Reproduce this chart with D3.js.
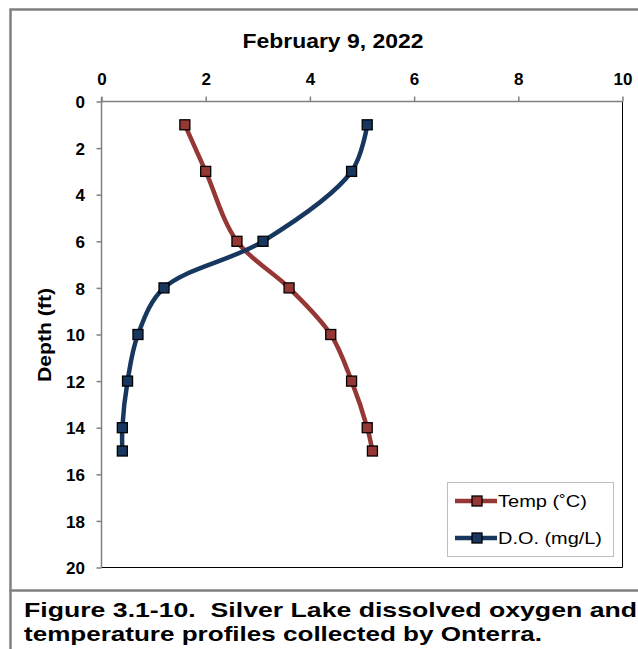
<!DOCTYPE html>
<html>
<head>
<meta charset="utf-8">
<script src="https://cdn.jsdelivr.net/npm/d3@7"></script>
<style>
  html, body { margin: 0; padding: 0; background: #fff; }
  svg { display: block; font-family: Arial, "Liberation Sans", sans-serif; }
</style>
</head>
<body>
<svg id="chart" width="638" height="649"></svg>
<script>
// Profile data: depth (ft) and readings
const depths = [1, 3, 6, 8, 10, 12, 14, 15];
const tempC = [1.6, 2.0, 2.6, 3.6, 4.4, 4.8, 5.1, 5.2];
const doMgL = [5.1, 4.8, 3.1, 1.2, 0.7, 0.5, 0.4, 0.4];
const xTicks = [0, 2, 4, 6, 8, 10];
const yTicks = [0, 2, 4, 6, 8, 10, 12, 14, 16, 18, 20];
const seriesNames = ["Temp (\u02DAC)", "D.O. (mg/L)"];
const seriesColors = ["#953735", "#17375E"];
const chartTitle = "February 9, 2022";
const yTitle = "Depth (ft)";
const captionLines = [
  "Figure 3.1-10.  Silver Lake dissolved oxygen and",
  "temperature profiles collected by Onterra."
];
const captionWidths = [613, 518];

const svg = d3.select("#chart");
const plot = { left: 101.5, top: 101.5, right: 622.5, bottom: 567.5 };

const x = d3.scaleLinear().domain([0, 10]).range([plot.left, plot.right]);
const y = d3.scaleLinear().domain([0, 20]).range([plot.top, plot.bottom]);

// Outer chart frame (extends past the right edge)
svg.append("rect")
  .attr("x", 10.5).attr("y", 9.5)
  .attr("width", 700).attr("height", 581)
  .attr("fill", "none").attr("stroke", "#808080").attr("stroke-width", 2.5);
// Left frame line continues down beside the caption
svg.append("line")
  .attr("x1", 10.5).attr("x2", 10.5).attr("y1", 590).attr("y2", 649)
  .attr("stroke", "#808080").attr("stroke-width", 2.5);

// Plot area border (right and bottom)
svg.append("path")
  .attr("d", `M${plot.right},${plot.top}V${plot.bottom}H${plot.left}`)
  .attr("fill", "none").attr("stroke", "#000").attr("stroke-width", 1);

// Top axis
const xAxis = d3.axisTop(x).tickValues(xTicks).tickSize(5).tickFormat(d3.format("d"));
const gx = svg.append("g").attr("transform", `translate(0,${plot.top})`).call(xAxis);
gx.select(".domain").attr("stroke", "#808080").attr("stroke-width", 1.5)
  .attr("d", `M${plot.left},0H${plot.right}`);
gx.selectAll(".tick line").attr("stroke", "#808080").attr("stroke-width", 1.5);
gx.selectAll(".tick text")
  .attr("font-size", 17).attr("font-weight", "bold").attr("fill", "#000")
  .attr("y", -16.5).attr("dy", 0)
  .attr("font-family", "Arial, 'Liberation Sans', sans-serif");

// Left axis
const yAxis = d3.axisLeft(y).tickValues(yTicks).tickSize(5).tickFormat(d3.format("d"));
const gy = svg.append("g").attr("transform", `translate(${plot.left},0)`).call(yAxis);
gy.select(".domain").attr("stroke", "#808080").attr("stroke-width", 1.5)
  .attr("d", `M0,${plot.top - 4}V${plot.bottom}`);
gy.selectAll(".tick line").attr("stroke", "#808080").attr("stroke-width", 1.5);
gy.selectAll(".tick text")
  .attr("font-size", 17).attr("font-weight", "bold").attr("fill", "#000")
  .attr("x", -16.5).attr("dy", "0.36em")
  .attr("font-family", "Arial, 'Liberation Sans', sans-serif");

// Title
svg.append("text")
  .attr("x", 333).attr("y", 47.5)
  .attr("text-anchor", "middle")
  .attr("font-size", 21).attr("font-weight", "bold")
  .attr("textLength", 181).attr("lengthAdjust", "spacingAndGlyphs")
  .text(chartTitle);

// Y axis title
svg.append("text")
  .attr("transform", `translate(51,${335}) rotate(-90)`)
  .attr("text-anchor", "middle")
  .attr("font-size", 19).attr("font-weight", "bold")
  .attr("textLength", 94).attr("lengthAdjust", "spacingAndGlyphs")
  .text(yTitle);

// Series
const series = [
  { name: seriesNames[0], color: seriesColors[0], values: tempC, width: 89 },
  { name: seriesNames[1], color: seriesColors[1], values: doMgL, width: 104 }
];

const line = d3.line()
  .x(d => x(d.v))
  .y(d => y(d.depth))
  .curve(d3.curveCatmullRom.alpha(0.5));

series.forEach(s => {
  const pts = depths.map((depth, i) => ({ depth, v: s.values[i] }));
  svg.append("path")
    .datum(pts)
    .attr("d", line)
    .attr("fill", "none")
    .attr("stroke", s.color)
    .attr("stroke-width", 4.5)
    .attr("stroke-linejoin", "round");
});

series.forEach(s => {
  const pts = depths.map((depth, i) => ({ depth, v: s.values[i] }));
  svg.append("g").selectAll("rect")
    .data(pts)
    .join("rect")
    .attr("x", d => x(d.v) - 5)
    .attr("y", d => y(d.depth) - 5)
    .attr("width", 10).attr("height", 10)
    .attr("fill", s.color)
    .attr("stroke", "#000").attr("stroke-width", 1.3);
});

// Legend
const legend = svg.append("g");
legend.append("rect")
  .attr("x", 447.5).attr("y", 482.5)
  .attr("width", 166).attr("height", 74)
  .attr("fill", "#fff").attr("stroke", "#bfbfbf").attr("stroke-width", 1);
series.forEach((s, i) => {
  const cy = 501 + i * 37;
  legend.append("line")
    .attr("x1", 455).attr("x2", 497).attr("y1", cy).attr("y2", cy)
    .attr("stroke", s.color).attr("stroke-width", 4.5);
  legend.append("rect")
    .attr("x", 472).attr("y", cy - 5).attr("width", 10).attr("height", 10)
    .attr("fill", s.color).attr("stroke", "#000").attr("stroke-width", 1.3);
  legend.append("text")
    .attr("x", 498).attr("y", cy).attr("dy", "0.36em")
    .attr("font-size", 17)
    .attr("textLength", s.width).attr("lengthAdjust", "spacingAndGlyphs")
    .text(s.name);
});

// Caption
captionLines.forEach((t, i) => {
  svg.append("text")
    .attr("x", 24).attr("y", 617 + i * 24)
    .attr("font-size", 21).attr("font-weight", "bold")
    .attr("textLength", captionWidths[i]).attr("lengthAdjust", "spacingAndGlyphs")
    .attr("xml:space", "preserve")
    .style("white-space", "pre")
    .text(t);
});
</script>
</body>
</html>
